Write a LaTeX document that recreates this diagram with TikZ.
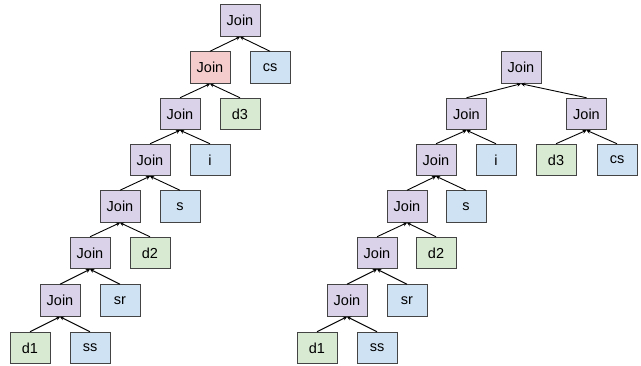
\documentclass[tikz,border=0pt]{standalone}
\usepackage{fontspec}
\setmainfont{Liberation Sans}
\usetikzlibrary{arrows.meta}
\definecolor{jp}{HTML}{D9D2E9}
\definecolor{jr}{HTML}{F4CCCC}
\definecolor{jb}{HTML}{CFE2F3}
\definecolor{jg}{HTML}{D9EAD3}
\definecolor{bd}{HTML}{444444}
\begin{document}
\begin{tikzpicture}[x=1pt,y=-1pt,
  box/.style={draw=bd,line width=1pt,minimum width=40pt,minimum height=31.5pt,inner sep=0pt,
    font=\fontsize{14.5}{17}\selectfont},
  jn/.style={box,fill=jp},
  rj/.style={box,fill=jr},
  bl/.style={box,fill=jb},
  gr/.style={box,fill=jg},
  ed/.style={line width=0.9pt,-{Stealth[length=4pt,width=4pt]}}]
\useasboundingbox (0,0) rectangle (641,366);
% left tree
\node[jn] (a0) at (240,20.5) {Join};
\node[rj] (a1) at (210,67.5) {Join};
\node[bl] (acs) at (270,67.5) {cs};
\node[jn] (a2) at (180,114) {Join};
\node[gr] (ad3) at (240,114) {d3};
\node[jn] (a3) at (150,160) {Join};
\node[bl] (ai) at (210,160) {i};
\node[jn] (a4) at (120,206.5) {Join};
\node[bl] (as) at (180,206.5) {s};
\node[jn] (a5) at (90,253) {Join};
\node[gr] (ad2) at (150,253) {d2};
\node[jn] (a6) at (60,300.5) {Join};
\node[bl] (asr) at (120,300.5) {sr};
\node[gr] (ad1) at (30,348) {d1};
\node[bl] (ass) at (90,348) {ss};
\foreach \p/\c in {a0/a1,a0/acs,a1/a2,a1/ad3,a2/a3,a2/ai,a3/a4,a3/as,a4/a5,a4/ad2,a5/a6,a5/asr,a6/ad1,a6/ass}
  \draw[ed] (\c.north) -- (\p.south);
% right tree
\node[jn] (b0) at (521,67.5) {Join};
\node[jn] (b1) at (466.5,114) {Join};
\node[jn] (b2) at (586.5,114) {Join};
\node[jn] (b3) at (436,160) {Join};
\node[bl] (bi) at (496,160) {i};
\node[gr] (bd3) at (556,160) {d3};
\node[bl] (bcs) at (617,160) {cs};
\node[jn] (b4) at (407,206.5) {Join};
\node[bl] (bs) at (466,206.5) {s};
\node[jn] (b5) at (377,253) {Join};
\node[gr] (bd2) at (436,253) {d2};
\node[jn] (b6) at (347,300.5) {Join};
\node[bl] (bsr) at (407,300.5) {sr};
\node[gr] (bd1) at (317,348) {d1};
\node[bl] (bss) at (377,348) {ss};
\foreach \p/\c in {b0/b1,b0/b2,b1/b3,b1/bi,b2/bd3,b2/bcs,b3/b4,b3/bs,b4/b5,b4/bd2,b5/b6,b5/bsr,b6/bd1,b6/bss}
  \draw[ed] (\c.north) -- (\p.south);
\end{tikzpicture}
\end{document}
